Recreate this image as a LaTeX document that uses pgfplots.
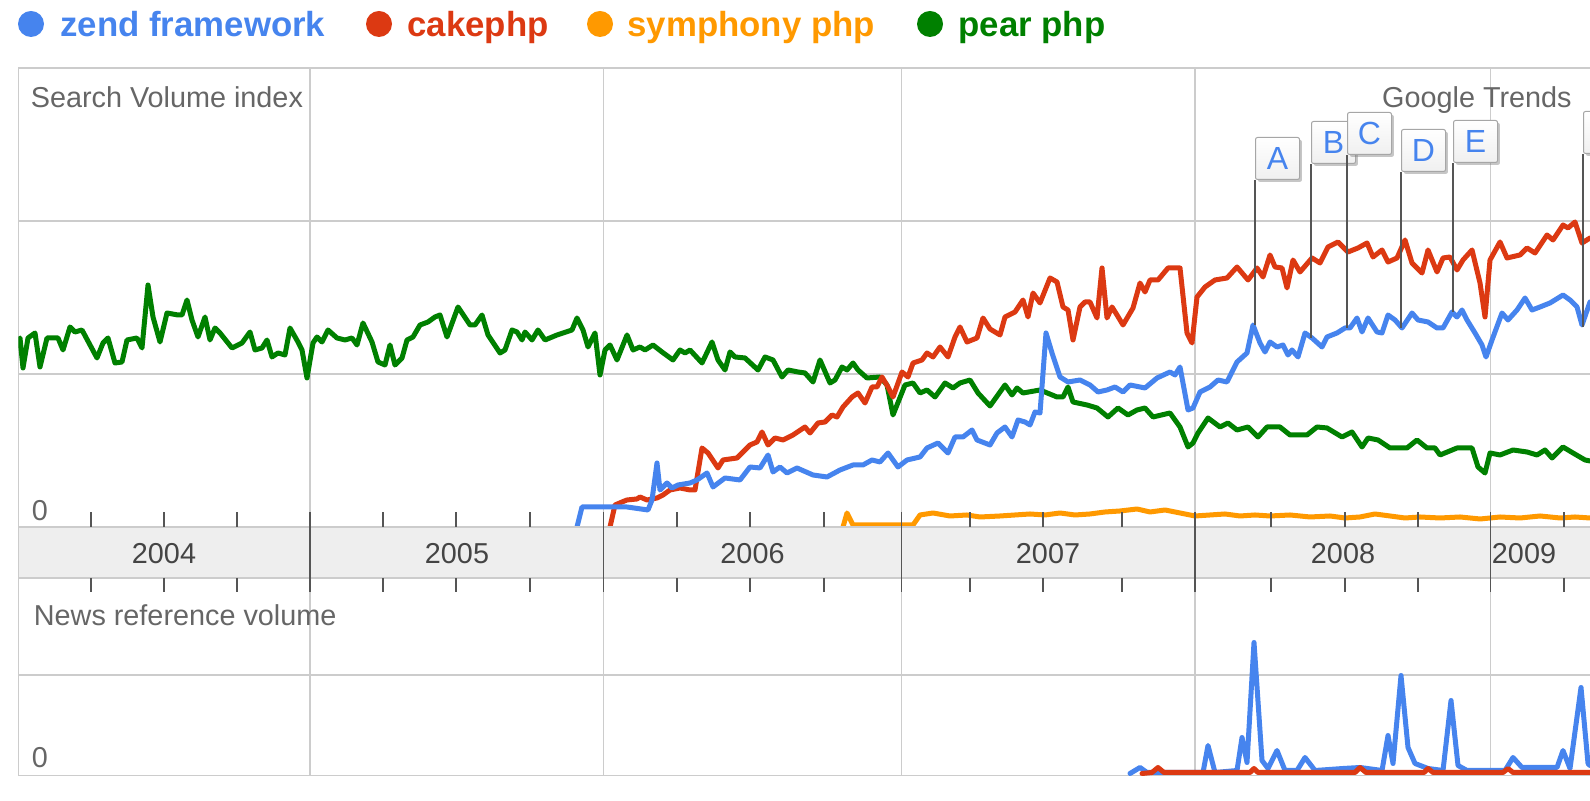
\documentclass[border=0pt]{standalone}
\usepackage{fontspec}
\setmainfont{Liberation Sans}
\usepackage{pgfplots}
\pgfplotsset{compat=1.18}
\usetikzlibrary{shadows}
\definecolor{zblue}{HTML}{4684EE}
\definecolor{zred}{HTML}{DC3912}
\definecolor{zorange}{HTML}{FF9900}
\definecolor{zgreen}{HTML}{008000}
\definecolor{gridgray}{HTML}{CCCCCC}
\definecolor{bandgray}{HTML}{EEEEEE}
\definecolor{labelgray}{HTML}{666666}
\definecolor{yeargray}{HTML}{444444}
\definecolor{tickdark}{HTML}{555555}
\definecolor{poledark}{HTML}{555555}
\newcommand{\flag}[5]{%
  \draw[poledark, line width=0.7pt] (axis cs:#1,#2) -- (axis cs:#1,#4);
  \node[draw=gray!70, top color=white, bottom color=gray!12, line width=0.5pt, rounded corners=1pt,
        minimum width=22pt, minimum height=21pt, inner sep=0pt, anchor=south west,
        text=zblue, font=\fontsize{16}{16}\selectfont,
        drop shadow={shadow xshift=1.2pt, shadow yshift=-1.2pt, fill=gray, opacity=0.45}]
        at (axis cs:#3,#4) {#5};
}
\pgfplotsset{trendaxis/.style={scale only axis, width=785.85pt, xmin=18.3, xmax=1590,
  anchor=south west, axis line style={draw=none},
  xtick={310,603.5,901.5,1195,1490.5}, xticklabels={}, yticklabels={},
  major tick length=0pt, grid=major, grid style={gridgray, line width=0.75pt},
  clip mode=individual,
  every axis plot/.append style={line width=2.5pt, line join=round, line cap=round, mark=none}}}
\begin{document}
\begin{tikzpicture}
\useasboundingbox (0,0) rectangle (795pt,400.5pt);
\clip (0,0) rectangle (795pt,400.5pt);
% ---------------- upper panel: search volume index
\begin{axis}[trendaxis, at={(9.15pt,137pt)}, height=229.5pt, ymin=0, ymax=459, ytick={153,306}]
\draw[gridgray, line width=0.75pt] (rel axis cs:0,0) -- (rel axis cs:0,1) -- (rel axis cs:1,1);
% pear php
\addplot[zgreen] coordinates {(18.3,185) (20,189) (23,159) (28,189) (35,194) (40,160) (47,189) (58,189) (63,177) (70,200) (75,195) (82,197) (97,169) (103,184) (108,189) (115,164) (122,165) (127,187) (137,189) (142,179) (148,242) (153,210) (160,185) (167,214) (178,212) (182,212) (187,227) (192,207) (198,190) (205,210) (210,187) (215,199) (220,194) (232,179) (242,184) (250,195) (255,177) (262,179) (267,187) (272,170) (278,174) (285,172) (290,199) (298,185) (302,177) (307,149) (313,184) (317,190) (322,185) (328,197) (337,189) (345,187) (352,189) (357,182) (363,204) (372,185) (378,165) (385,162) (390,182) (395,162) (402,169) (407,187) (413,190) (420,202) (428,205) (435,210) (440,212) (447,190) (458,220) (470,202) (475,202) (482,212) (488,192) (500,174) (505,177) (512,197) (517,195) (522,187) (525,195) (532,187) (538,197) (545,187) (557,192) (572,197) (577,209) (583,197) (588,180) (595,194) (600,152) (605,177) (610,182) (617,167) (627,192) (633,177) (640,180) (645,177) (653,182) (662,175) (673,167) (680,177) (685,174) (690,177) (702,164) (712,185) (718,167) (725,157) (730,175) (735,170) (745,169) (758,157) (765,170) (773,167) (782,150) (788,157) (798,155) (805,154) (813,145) (820,167) (830,144) (835,147) (842,160) (847,157) (853,164) (858,157) (867,149) (880,150) (887,142) (893,112) (905,142) (913,144) (920,134) (927,137) (935,130) (945,144) (953,139) (960,144) (970,147) (978,134) (990,121) (1005,142) (1012,132) (1017,139) (1023,134) (1040,137) (1057,130) (1063,130) (1068,140) (1073,125) (1087,122) (1097,119) (1108,110) (1118,119) (1128,112) (1137,117) (1145,119) (1153,110) (1170,114) (1180,100) (1188,80) (1193,84) (1198,94) (1208,109) (1220,100) (1228,104) (1237,97) (1248,100) (1258,90) (1267,100) (1280,100) (1290,92) (1307,92) (1317,100) (1327,99) (1342,90) (1352,95) (1362,80) (1368,89) (1378,87) (1390,79) (1407,79) (1417,87) (1427,79) (1435,79) (1440,72) (1457,79) (1472,79) (1478,60) (1485,54) (1490,74) (1500,72) (1513,77) (1527,75) (1537,72) (1545,77) (1552,69) (1563,80) (1573,74) (1585,67) (1590,66)};
% symphony php
\addplot[zorange] coordinates {(843,0) (847,14) (853,2) (913,2) (920,12) (933,14) (950,11) (967,12) (980,10) (1000,11) (1015,12) (1030,13) (1045,12) (1060,14) (1075,12) (1090,13) (1105,15) (1120,16) (1137,18) (1150,15) (1165,17) (1180,14) (1195,11) (1210,12) (1225,13) (1240,11) (1255,12) (1270,11) (1290,12) (1310,10) (1330,11) (1345,9) (1360,10) (1375,13) (1390,11) (1405,9) (1420,10) (1440,9) (1460,10) (1480,8) (1500,10) (1520,9) (1540,11) (1560,9) (1575,10) (1590,9)};
% cakephp
\addplot[zred] coordinates {(610,0) (615,22) (622,25) (627,27) (637,28) (640,30) (647,27) (657,29) (663,32) (670,37) (680,39) (690,37) (695,37) (702,79) (708,74) (718,59) (723,67) (737,69) (750,82) (757,85) (762,95) (768,82) (775,89) (783,87) (793,92) (805,100) (810,94) (818,104) (825,105) (832,112) (837,110) (843,120) (852,130) (858,134) (865,124) (872,140) (877,140) (882,150) (888,140) (893,130) (902,155) (908,150) (913,164) (922,167) (927,174) (933,170) (940,180) (948,170) (955,190) (960,200) (967,185) (977,189) (983,209) (990,198) (1000,192) (1005,210) (1015,215) (1023,227) (1028,210) (1033,234) (1040,224) (1050,249) (1057,245) (1063,220) (1068,217) (1073,187) (1080,220) (1085,225) (1090,225) (1097,209) (1102,259) (1107,209) (1112,220) (1117,212) (1123,202) (1133,219) (1140,244) (1145,235) (1150,247) (1158,247) (1168,259) (1180,259) (1187,194) (1192,184) (1197,230) (1205,240) (1215,247) (1227,249) (1237,260) (1248,247) (1257,259) (1263,250) (1270,272) (1275,260) (1282,259) (1287,239) (1293,267) (1300,255) (1312,269) (1320,264) (1328,280) (1338,285) (1348,275) (1358,279) (1367,284) (1373,270) (1382,277) (1388,265) (1397,269) (1405,287) (1412,264) (1422,254) (1428,277) (1437,255) (1443,269) (1450,270) (1457,257) (1463,267) (1472,277) (1480,244) (1485,210) (1490,267) (1500,285) (1507,269) (1520,272) (1527,279) (1535,274) (1547,292) (1553,287) (1563,302) (1568,299) (1575,305) (1582,284) (1590,289)};
% zend framework
\addplot[zblue] coordinates {(577,0) (582,20) (593,20) (627,20) (648,17) (652,27) (657,64) (660,37) (667,44) (672,39) (678,42) (690,44) (697,47) (707,54) (713,40) (725,49) (740,47) (750,60) (760,59) (768,72) (773,55) (780,60) (787,54) (797,59) (813,52) (827,50) (840,57) (853,62) (863,62) (872,67) (880,65) (888,74) (898,60) (907,67) (920,70) (927,79) (938,84) (948,74) (955,90) (963,90) (972,97) (977,87) (990,82) (997,94) (1005,100) (1012,90) (1018,107) (1025,105) (1030,102) (1035,115) (1040,114) (1046,194) (1052,174) (1060,150) (1068,145) (1080,147) (1090,142) (1098,135) (1107,137) (1115,140) (1123,135) (1130,142) (1145,139) (1157,149) (1170,155) (1175,152) (1180,160) (1188,117) (1193,119) (1200,135) (1210,140) (1218,147) (1227,145) (1237,165) (1247,174) (1253,202) (1260,184) (1265,175) (1270,185) (1277,180) (1283,182) (1288,172) (1292,177) (1298,170) (1305,194) (1312,189) (1322,180) (1327,190) (1337,194) (1345,199) (1350,199) (1357,209) (1362,195) (1368,209) (1377,195) (1382,194) (1388,212) (1395,207) (1402,199) (1412,214) (1418,207) (1428,205) (1437,199) (1443,199) (1452,215) (1457,210) (1462,217) (1467,207) (1475,194) (1482,182) (1486,170) (1492,187) (1502,214) (1508,207) (1517,217) (1525,229) (1532,217) (1540,220) (1550,224) (1563,232) (1570,227) (1577,220) (1582,202) (1590,225)};
% event flags
\flag{1255}{202}{1255}{347}{A}
\flag{1311}{189}{1311}{363}{B}
\flag{1347}{199}{1347}{372}{C}
\flag{1401}{199}{1401}{355}{D}
\flag{1453}{215}{1453}{364}{E}
\flag{1583}{200}{1583}{373}{}
\end{axis}
% ---------------- lower panel: news reference volume
\begin{axis}[trendaxis, at={(9.15pt,12.75pt)}, height=98.75pt, ymin=0, ymax=197.5, ytick={100.5}]
\draw[gridgray, line width=0.75pt] (rel axis cs:0,1) -- (rel axis cs:0,0) -- (rel axis cs:1,0);
\addplot[zblue] coordinates {(1130,2) (1140,8) (1147,3) (1203,3) (1208,30) (1215,3) (1237,5) (1242,38) (1247,13) (1254,133) (1262,15) (1268,7) (1277,25) (1285,5) (1297,5) (1305,18) (1315,5) (1343,7) (1360,8) (1382,5) (1388,40) (1393,12) (1401,100) (1408,28) (1415,12) (1428,7) (1443,5) (1451,75) (1458,10) (1467,5) (1505,5) (1513,18) (1522,8) (1557,8) (1563,25) (1570,7) (1581,88) (1588,12) (1590,10)};
\addplot[zred] coordinates {(1142,2) (1152,3) (1158,8) (1164,3) (1250,3) (1254,7) (1258,3) (1355,3) (1360,8) (1366,3) (1424,3) (1428,7) (1433,3) (1503,3) (1508,7) (1513,3) (1590,3)};
\end{axis}
% ---------------- date band
\fill[bandgray] (9.15pt,111.5pt) rectangle (795pt,137pt);
\draw[gridgray, line width=0.75pt] (9.15pt,137pt) -- (795pt,137pt);
\draw[gridgray, line width=0.75pt] (9.15pt,111.5pt) -- (795pt,111.5pt);
\draw[gridgray, line width=0.75pt] (9.15pt,111.5pt) -- (9.15pt,137pt);
\foreach \q in {91,164,237,383,456,530,677,750,824,970,1043,1122,1271,1345,1418,1564} {
  \draw[tickdark, line width=0.6pt] ({\q*0.5pt},137pt) -- ({\q*0.5pt},144.5pt);
  \draw[tickdark, line width=0.6pt] ({\q*0.5pt},111.5pt) -- ({\q*0.5pt},104.5pt);
}
\foreach \yr in {310,603.5,901.5,1195,1490.5} {
  \draw[tickdark, line width=0.6pt] ({\yr*0.5pt},144.5pt) -- ({\yr*0.5pt},104.5pt);
}
\begin{scope}[every node/.style={inner sep=0pt, font=\fontsize{14.4}{16}\selectfont}]
\node[anchor=base, text=yeargray] at (82pt,118.85pt) {2004};
\node[anchor=base, text=yeargray] at (228.5pt,118.85pt) {2005};
\node[anchor=base, text=yeargray] at (376.25pt,118.85pt) {2006};
\node[anchor=base, text=yeargray] at (524pt,118.85pt) {2007};
\node[anchor=base, text=yeargray] at (671.5pt,118.85pt) {2008};
\node[anchor=base, text=yeargray] at (762pt,118.85pt) {2009};
\node[anchor=base west, text=labelgray] at (15.2pt,346.85pt) {Search Volume index};
\node[anchor=base east, text=labelgray] at (786pt,346.85pt) {Google Trends};
\node[anchor=base, text=labelgray] at (20pt,140.35pt) {0};
\node[anchor=base west, text=labelgray] at (16.75pt,87.85pt) {News reference volume};
\node[anchor=base, text=labelgray] at (20pt,16.85pt) {0};
\end{scope}
% ---------------- legend
\begin{scope}[every node/.style={inner sep=0pt, anchor=base west, font=\bfseries\fontsize{17.4}{20}\selectfont}]
\fill[zblue] (15.5pt,388.5pt) circle (6.5pt);
\node[text=zblue] at (30pt,382pt) {zend framework};
\fill[zred] (189.5pt,388.5pt) circle (6.5pt);
\node[text=zred] at (203.5pt,382pt) {cakephp};
\fill[zorange] (300pt,388.5pt) circle (6.5pt);
\node[text=zorange] at (313.5pt,382pt) {symphony php};
\fill[zgreen] (465pt,388.5pt) circle (6.5pt);
\node[text=zgreen] at (479pt,382pt) {pear php};
\end{scope}
\end{tikzpicture}
\end{document}
